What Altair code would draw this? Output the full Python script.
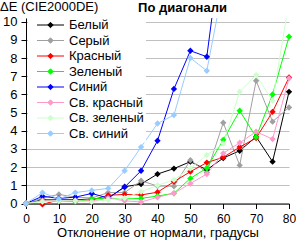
import altair as alt
import pandas as pd

angles = [0, 5, 10, 15, 20, 25, 30, 35, 40, 45, 50, 55, 60, 65, 70, 75, 80]

series_names = ["Белый", "Серый", "Красный", "Зеленый", "Синий",
                "Св. красный", "Св. зеленый", "Св. синий"]
series_colors = ["#000000", "#a0a0a0", "#ff0000", "#00ff00", "#0000ff",
                 "#ff99cc", "#ccffcc", "#99ccff"]

white = [0, 0.2, 0.2, 0.2, 0.25, 0.3, 0.92, 1.07, 1.62, 1.92, 2.3, 1.85, 2.5, 2.9, 3.67, 2.3, 6.14]
grey = [0, 0.3, 0.5, 0.35, 0.3, 0.6, 0.6, 1.25, 0.96, 0.95, 2.38, 1.7, 4.44, 2.1, 6.75, 4.5, 5.28]
red = [0, -0.05, 0.2, 0.2, 0.2, 0.45, 0.5, 0.47, 0.62, 1.2, 1.75, 2.25, 2.54, 3.1, 3.6, 5.04, 6.93]
green = [0, 0.15, 0.15, 0.1, 0.25, 0.3, 0.25, 0.28, 0.41, 0.56, 1.38, 1.95, 3.5, 5.1, 3.65, 6.0, 9.17]
blue = [0, 0.4, 0.28, 0.35, 0.55, 0.3, 0.9, 1.8, 3.45, 6.3, 8.4, 8.07, 15.0, None, None, None, None]
light_red = [0, 0.15, 0.15, 0.15, 0.1, 0.3, 0.15, 0.08, 0.34, 0.56, 1.1, 1.62, 2.76, 3.34, 3.95, 3.54, 6.88]
light_green = [0, 0.1, 0.15, 0.15, 0.1, 0.2, 0.3, 0.65, 1.0, 1.3, 1.93, 2.66, 3.3, 6.14, 7.06, 5.65, 11.1]
light_blue = [0, 0.6, 0.25, 0.6, 0.72, 0.83, 1.8, 3.1, 4.4, 4.86, 8.0, 7.3, 12.0, None, None, None, None]

all_series = [white, grey, red, green, blue, light_red, light_green, light_blue]

chart_title = "По диагонали"
y_title = "ΔE (CIE2000DE)"
x_title = "Отклонение от нормали, градусы"
x_ticks = [0, 10, 20, 30, 40, 50, 60, 70, 80]
y_ticks = [0, 1, 2, 3, 4, 5, 6, 7, 8, 9, 10]

rows = []
for i, (name, vals) in enumerate(zip(series_names, all_series)):
    for a, v in zip(angles, vals):
        if v is not None:
            rows.append({"angle": a, "dE": v, "series": name, "idx": i})
df = pd.DataFrame(rows)

FONT = "Liberation Sans"
YMAX = 10.2

legend = alt.Legend(
    title=None, orient="none", legendX=2, legendY=-1.5, padding=2,
    fillColor="white", labelFont=FONT, labelFontSize=13, labelColor="black",
    symbolType="M-4,0H4M0,-0.8L0.8,0L0,0.8L-0.8,0Z", symbolSize=45.6,
    symbolStrokeWidth=1, symbolOffset=14, labelOffset=12, rowPadding=1.5,
)

color = alt.Color("series:N", scale=alt.Scale(domain=series_names, range=series_colors),
                  sort=series_names, legend=legend)

x = alt.X("angle:Q", scale=alt.Scale(domain=[0, 80], nice=False, zero=False),
          axis=alt.Axis(values=x_ticks, grid=False, domainColor="black", tickColor="black",
                        tickSize=5, labelFont=FONT, labelFontSize=12, labelColor="black",
                        labelPadding=5, title=x_title, titleFont=FONT, titleFontSize=13,
                        titleFontWeight="normal", titleColor="black", titlePadding=1.5,
                        labelFlush=False))
y = alt.Y("dE:Q", scale=alt.Scale(domain=[0, YMAX], nice=False),
          axis=alt.Axis(values=y_ticks, grid=True, gridColor="#c0c0c0", domainColor="black",
                        tickColor="black", tickSize=5, labelFont=FONT, labelFontSize=13,
                        labelColor="black", labelPadding=4, title=None, labelFlush=False))

base = alt.Chart(df).encode(x=x, y=y, color=color, order="angle:Q")

lines = base.mark_line(strokeWidth=1, clip=True)
points = base.transform_filter(f"datum.dE <= {YMAX}").mark_point(
    shape="diamond", filled=True, size=40, opacity=1)

title_df = pd.DataFrame({"t": [chart_title]})
title_mark = alt.Chart(title_df).mark_text(
    font=FONT, fontSize=13, fontWeight="bold", color="black", align="center", baseline="middle"
).encode(text="t:N", x=alt.value(156.5), y=alt.value(-10.5))

ytitle_df = pd.DataFrame({"t": [y_title]})
ytitle_mark = alt.Chart(ytitle_df).mark_text(
    font=FONT, fontSize=13, color="black", align="left", baseline="middle"
).encode(text="t:N", x=alt.value(-26), y=alt.value(-11.5))

chart = alt.layer(lines, points, title_mark, ytitle_mark).properties(
    width=263, height=185.5,
    autosize=alt.AutoSizeParams(type="none"),
    padding={"left": 26, "top": 18, "right": 7, "bottom": 40.5},
    background="white",
).configure_view(stroke=None)

chart.save("out.html", embed_options={"renderer": "svg", "actions": False})
